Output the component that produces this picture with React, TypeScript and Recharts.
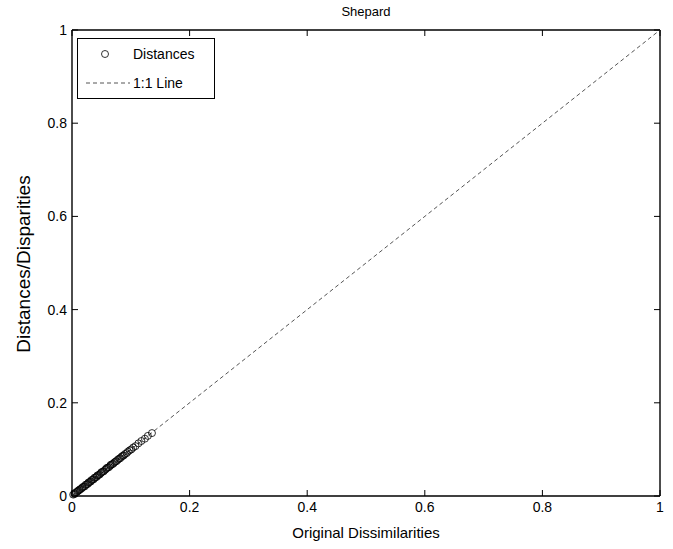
import React from "react";
import {
  ScatterChart,
  Scatter,
  XAxis,
  YAxis,
  Legend,
} from "recharts";

// dissimilarities (x) vs distances (y)
const dissimilarities = [
  0.002, 0.004, 0.005, 0.007, 0.009, 0.010, 0.012, 0.013, 0.015, 0.017,
  0.018, 0.020, 0.022, 0.023, 0.025, 0.027, 0.028, 0.030, 0.032, 0.033,
  0.035, 0.037, 0.038, 0.040, 0.042, 0.043, 0.045, 0.047, 0.049, 0.050,
  0.052, 0.054, 0.056, 0.058, 0.059, 0.061, 0.063, 0.065, 0.066, 0.068,
  0.070, 0.072, 0.074, 0.076, 0.078, 0.080, 0.082, 0.084, 0.086, 0.088,
  0.090, 0.093, 0.095, 0.098, 0.101, 0.104, 0.108, 0.113, 0.118, 0.124,
  0.129, 0.136,
];
const distances = [
  0.003, 0.004, 0.006, 0.008, 0.009, 0.011, 0.012, 0.014, 0.015, 0.017,
  0.019, 0.020, 0.021, 0.024, 0.025, 0.026, 0.029, 0.030, 0.031, 0.034,
  0.035, 0.036, 0.039, 0.040, 0.041, 0.044, 0.045, 0.046, 0.049, 0.051,
  0.052, 0.053, 0.056, 0.058, 0.060, 0.061, 0.062, 0.065, 0.067, 0.068,
  0.069, 0.072, 0.074, 0.075, 0.078, 0.080, 0.081, 0.084, 0.086, 0.087,
  0.090, 0.092, 0.095, 0.098, 0.100, 0.104, 0.107, 0.113, 0.118, 0.123,
  0.129, 0.135,
];
const lineX = [0, 1];
const lineY = [0, 1];
const xTicks = [0, 0.2, 0.4, 0.6, 0.8, 1];
const yTicks = [0, 0.2, 0.4, 0.6, 0.8, 1];

const points = dissimilarities.map((d, i) => ({ x: d, y: distances[i] }));
const oneToOne = lineX.map((x, i) => ({ x, y: lineY[i] }));

const FONT = "'Liberation Sans', Arial, Helvetica, sans-serif";
const GAP = 4;
const TL = 6;

// ticks point inwards, MATLAB style
const BottomTick = (p: any) => (
  <g>
    <line x1={p.x} y1={p.y - GAP} x2={p.x} y2={p.y - GAP - TL} stroke="#000" />
    <text x={p.x} y={p.y + 12} textAnchor="middle" fontSize={14} fontFamily={FONT} fill="#000">
      {String(p.payload.value)}
    </text>
  </g>
);
const LeftTick = (p: any) => (
  <g>
    <line x1={p.x + GAP} y1={p.y} x2={p.x + GAP + TL} y2={p.y} stroke="#000" />
    <text x={p.x - 1} y={p.y} dy="0.35em" textAnchor="end" fontSize={14} fontFamily={FONT} fill="#000">
      {String(p.payload.value)}
    </text>
  </g>
);
const TopTick = (p: any) => (
  <line x1={p.x} y1={p.y + GAP} x2={p.x} y2={p.y + GAP + TL} stroke="#000" />
);
const RightTick = (p: any) => (
  <line x1={p.x - GAP} y1={p.y} x2={p.x - GAP - TL} y2={p.y} stroke="#000" />
);

const Circle = (p: any) => (
  <circle cx={p.cx} cy={p.cy} r={3.5} fill="none" stroke="#000" strokeWidth={0.8} />
);

const LegendBox = () => (
  <div
    style={{
      width: 136,
      height: 59,
      border: "1px solid #000",
      background: "#fff",
      position: "relative",
    }}
  >
    <svg width={136} height={59} style={{ position: "absolute", left: 0, top: 0 }}>
      <circle cx={27} cy={15} r={3.5} fill="none" stroke="#000" strokeWidth={0.8} />
      <line x1={8} y1={44} x2={52} y2={44} stroke="#555" strokeDasharray="4 3" />
      <text x={55} y={20} fontSize={14} fontFamily={FONT}>Distances</text>
      <text x={55} y={49} fontSize={14} fontFamily={FONT}>1:1 Line</text>
    </svg>
  </div>
);

export default function App() {
  return (
    <div style={{ position: "absolute", left: 0, top: 0, width: 673, height: 549, background: "#fff" }}>
      <ScatterChart
        width={673}
        height={549}
        margin={{ top: 29, right: 12, bottom: 52, left: 71 }}
      >
        <XAxis
          xAxisId="bottom"
          dataKey="x"
          type="number"
          domain={[0, 1]}
          ticks={xTicks}
          height={1}
          tickSize={0}
          tickMargin={GAP}
          tick={<BottomTick />}
          tickLine={false}
          axisLine={{ stroke: "#000", strokeWidth: 1.4 }}
          orientation="bottom"
        />
        <XAxis
          xAxisId="top"
          dataKey="x"
          type="number"
          domain={[0, 1]}
          ticks={xTicks}
          height={1}
          tickSize={0}
          tickMargin={GAP}
          tick={<TopTick />}
          tickLine={false}
          axisLine={{ stroke: "#000", strokeWidth: 1.4 }}
          orientation="top"
        />
        <YAxis
          yAxisId="left"
          dataKey="y"
          type="number"
          domain={[0, 1]}
          ticks={yTicks}
          width={1}
          tickSize={0}
          tickMargin={GAP}
          tick={<LeftTick />}
          tickLine={false}
          axisLine={{ stroke: "#000", strokeWidth: 1.4 }}
          orientation="left"
        />
        <YAxis
          yAxisId="right"
          dataKey="y"
          type="number"
          domain={[0, 1]}
          ticks={yTicks}
          width={1}
          tickSize={0}
          tickMargin={GAP}
          tick={<RightTick />}
          tickLine={false}
          axisLine={{ stroke: "#000", strokeWidth: 1.4 }}
          orientation="right"
        />
        <Legend
          layout="horizontal"
          verticalAlign="middle"
          align="center"
          wrapperStyle={{ position: "absolute", left: 77, top: 38, width: "auto" }}
          content={() => <LegendBox />}
        />
        <Scatter
          name="1:1 Line"
          data={oneToOne}
          xAxisId="top"
          yAxisId="right"
          line={{ stroke: "#555", strokeWidth: 1, strokeDasharray: "4 3" }}
          shape={() => null}
          isAnimationActive={false}
        />
        <Scatter
          name="Distances"
          data={points}
          xAxisId="bottom"
          yAxisId="left"
          shape={<Circle />}
          isAnimationActive={false}
        />
      </ScatterChart>
      <div style={{ position: "absolute", left: 72, width: 588, top: 4, textAlign: "center", fontFamily: FONT, fontSize: 13 }}>
        Shepard
      </div>
      <div style={{ position: "absolute", left: 72, width: 588, top: 524, textAlign: "center", fontFamily: FONT, fontSize: 15 }}>
        Original Dissimilarities
      </div>
      <div
        style={{
          position: "absolute",
          left: 24,
          top: 264,
          transform: "translate(-50%, -50%) rotate(-90deg)",
          whiteSpace: "nowrap",
          fontFamily: FONT,
          fontSize: 19,
        }}
      >
        Distances/Disparities
      </div>
    </div>
  );
}
